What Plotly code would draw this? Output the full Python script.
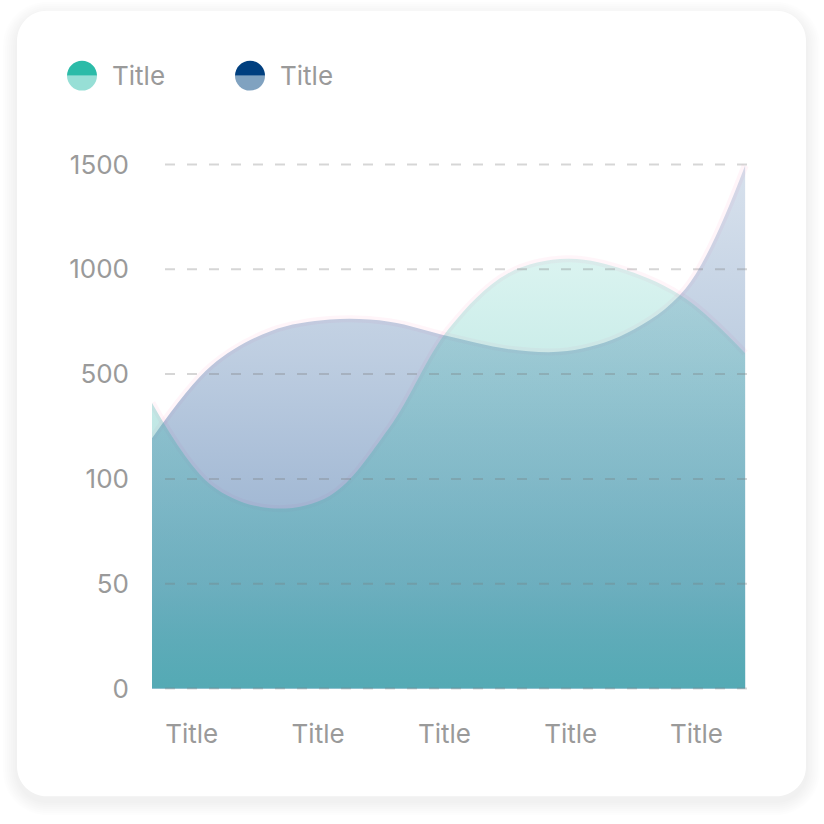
import numpy as np
import plotly.graph_objects as go

# values; the y axis is stepped (0, 50, 100, 500 ...)
# but its ticks sit at equal distances, so values are mapped onto tick index
y_ticks = [0, 50, 100, 500, 1000, 1500]
x_labels = ["Title", "Title", "Title", "Title", "Title"]
x_label_pos = [0.67, 2.80, 4.93, 7.06, 9.18]

series_names = ["Title", "Title"]
teal_values = [390, 97, 86, 92, 295, 715, 980, 1050, 995, 860, 600]
navy_values = [255, 540, 705, 760, 750, 680, 620, 610, 695, 910, 1495]

W = H = 824
L, R, T, B = 152, 67, 153.5, 124.5
PW, PH = W - L - R, H - T - B
FONT = "Inter"
GREY = "#9a9a9a"


def px(x):
    return (x - L) / PW


def py(y):
    return (H - B - y) / PH


def to_axis(v):
    return np.interp(v, y_ticks, np.arange(len(y_ticks)))


def round_rect(x0, y0, x1, y1, r):
    k = 0.5523 * r
    pts = [
        ("M", [(x0 + r, y0)]),
        ("L", [(x1 - r, y0)]),
        ("C", [(x1 - r + k, y0), (x1, y0 + r - k), (x1, y0 + r)]),
        ("L", [(x1, y1 - r)]),
        ("C", [(x1, y1 - r + k), (x1 - r + k, y1), (x1 - r, y1)]),
        ("L", [(x0 + r, y1)]),
        ("C", [(x0 + r - k, y1), (x0, y1 - r + k), (x0, y1 - r)]),
        ("L", [(x0, y0 + r)]),
        ("C", [(x0, y0 + r - k), (x0 + r - k, y0), (x0 + r, y0)]),
    ]
    path = ""
    for cmd, ps in pts:
        path += cmd + " ".join(f"{px(a):.5f},{py(b):.5f}" for a, b in ps) + " "
    return path + "Z"


def half_circle(cx, cy, r, top=True):
    k = 0.5523 * r
    s = -1 if top else 1
    ps = [(cx - r, cy), (cx - r, cy + s * k), (cx - k, cy + s * r), (cx, cy + s * r),
          (cx + k, cy + s * r), (cx + r, cy + s * k), (cx + r, cy)]
    p = [f"{px(a):.5f},{py(b):.5f}" for a, b in ps]
    return f"M{p[0]} C{p[1]} {p[2]} {p[3]} C{p[4]} {p[5]} {p[6]} Z"


x = np.arange(len(teal_values))
teal_y = to_axis(teal_values)
navy_y = to_axis(navy_values)

fig = go.Figure()

# faint pink glow along the top edges
for yy in (navy_y, teal_y):
    fig.add_trace(go.Scatter(
        x=x, y=yy, mode="lines", hoverinfo="skip", showlegend=False,
        line=dict(color="rgba(255,190,215,0.16)", width=7, shape="spline"),
    ))

fig.add_trace(go.Scatter(
    x=x, y=navy_y, name=series_names[1], mode="lines", fill="tozeroy",
    line=dict(width=0, shape="spline"), hoverinfo="skip",
    fillgradient=dict(
        type="vertical", start=0, stop=5,
        colorscale=[
            [0.0, "rgba(32,86,152,0.55)"],
            [0.38, "rgba(32,86,152,0.40)"],
            [0.64, "rgba(32,86,152,0.29)"],
            [0.92, "rgba(32,86,152,0.20)"],
            [1.0, "rgba(32,86,152,0.18)"],
        ],
    ),
))

fig.add_trace(go.Scatter(
    x=x, y=teal_y, name=series_names[0], mode="lines", fill="tozeroy",
    line=dict(width=0, shape="spline"), hoverinfo="skip",
    fillgradient=dict(
        type="vertical", start=0, stop=5,
        colorscale=[
            [0.0, "rgba(78,171,178,0.88)"],
            [0.2, "rgba(72,174,176,0.52)"],
            [0.4, "rgba(62,178,174,0.36)"],
            [0.64, "rgba(50,184,170,0.25)"],
            [0.8, "rgba(43,187,168,0.18)"],
            [1.0, "rgba(43,187,168,0.15)"],
        ],
    ),
))

shapes = []
# card shadow + card
for d in range(14, 0, -2):
    shapes.append(dict(
        type="path", xref="paper", yref="paper", layer="below",
        path=round_rect(17 - d, 10 - d + 5, 806 + d, 797 + d + 5, 30 + d),
        fillcolor="rgba(0,0,0,0.007)", line=dict(width=0),
    ))
shapes.append(dict(
    type="path", xref="paper", yref="paper", layer="below",
    path=round_rect(17, 10, 806, 797, 30),
    fillcolor="white", line=dict(width=0),
))

# dashed grid lines drawn over the areas
for i in range(len(y_ticks)):
    shapes.append(dict(
        type="line", xref="paper", yref="y", layer="above",
        x0=px(165), x1=px(757), y0=i, y1=i,
        line=dict(color="rgba(120,120,120,0.3)", width=2, dash="10px,12px"),
    ))

# legend markers: two-tone half circles
legend_items = [(82, "#2bbba8", "#97dfd6"), (250, "#003f7f", "#80a2c0")]
annotations = []
for (cx, top_col, bot_col), name in zip(legend_items, series_names):
    shapes.append(dict(type="path", xref="paper", yref="paper",
                       path=half_circle(cx, 75, 15, True),
                       fillcolor=top_col, line=dict(width=0)))
    shapes.append(dict(type="path", xref="paper", yref="paper",
                       path=half_circle(cx, 75, 15, False),
                       fillcolor=bot_col, line=dict(width=0)))
    annotations.append(dict(
        xref="paper", yref="paper", x=px(cx + 28), y=py(75),
        xanchor="left", yanchor="middle", showarrow=False, text=name,
        font=dict(family=FONT, size=26, color=GREY),
    ))

fig.update_layout(
    width=W, height=H,
    margin=dict(l=L, r=R, t=T, b=B, pad=0),
    paper_bgcolor="white", plot_bgcolor="rgba(0,0,0,0)",
    showlegend=False,
    shapes=shapes, annotations=annotations,
    font=dict(family=FONT, size=26, color=GREY),
    xaxis=dict(
        range=[0, 10.2], tickvals=x_label_pos, ticktext=x_labels,
        showgrid=False, zeroline=False, showline=False, ticks="",
        ticklabelstandoff=17, fixedrange=True,
    ),
    yaxis=dict(
        range=[-0.1, 5.1], tickvals=list(range(len(y_ticks))),
        ticktext=[str(v) for v in y_ticks],
        showgrid=False, zeroline=False, showline=False, ticks="",
        ticklabelstandoff=22, fixedrange=True,
    ),
)

fig.write_html("out.html", config={"displayModeBar": False},
               post_script="document.body.style.margin='0';")
